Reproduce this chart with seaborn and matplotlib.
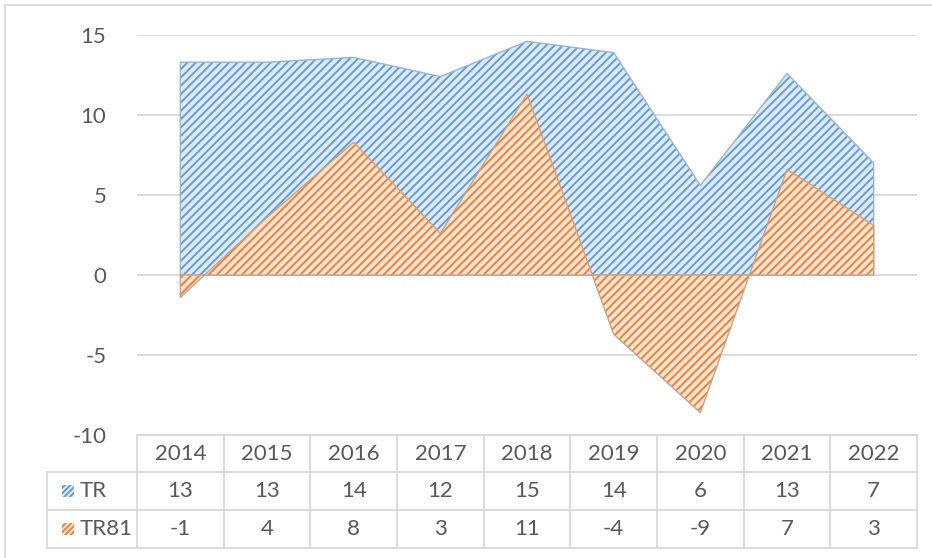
import matplotlib
matplotlib.use("Agg")
import matplotlib.pyplot as plt
import matplotlib.transforms as mtransforms
from matplotlib.patches import Rectangle
import seaborn as sns
import pandas as pd

# === datos ===
anios = ["2014", "2015", "2016", "2017", "2018", "2019", "2020", "2021", "2022"]
tr = [13.3, 13.3, 13.6, 12.4, 14.6, 13.9, 5.6, 12.6, 7.0]
tr81 = [-1.4, 3.6, 8.3, 2.6, 11.3, -3.7, -8.6, 6.6, 3.1]
series = ["TR", "TR81"]

df = pd.DataFrame({"anio": anios, "TR": tr, "TR81": tr81})
df["x"] = range(len(df))

# === estilo ===
sns.set_theme(style="white")
plt.rcParams["font.family"] = ["Lato", "DejaVu Sans"]
plt.rcParams["axes.unicode_minus"] = False
plt.rcParams["hatch.linewidth"] = 1.3
gris = "#595959"
linea = "#d9d9d9"
fs = 16

colores = {
    "TR": {"fondo": "#dce8f6", "trama": "#5b9bd5", "borde": "#9cb4cf"},
    "TR81": {"fondo": "#fde3cf", "trama": "#ed7d31", "borde": "#c9a285"},
}

fig = plt.figure(figsize=(9.32, 5.58), dpi=100)
W, H = 932, 558
ax = fig.add_axes([137 / W, 1 - 435 / H, 780 / W, 400 / H])

# === areas ===
for s in series:
    c = colores[s]
    ax.fill_between(df["x"], 0, df[s], facecolor=c["fondo"], edgecolor="none", zorder=2)
    ax.fill_between(df["x"], 0, df[s], facecolor="none", edgecolor=c["trama"],
                    hatch="////", linewidth=0, zorder=2)
    ax.fill_between(df["x"], 0, df[s], facecolor="none", edgecolor=c["borde"],
                    linewidth=1.0, zorder=2)

ax.set_xlim(-0.5, len(anios) - 0.5)
ax.set_ylim(-10, 15)
ax.set_yticks([-10, -5, 0, 5, 10, 15])
ax.set_xticks([])
ax.yaxis.grid(True, color=linea, linewidth=1.3, zorder=0)
ax.set_axisbelow(True)
ax.tick_params(axis="y", length=0, pad=22, labelsize=fs, labelcolor=gris)
sns.despine(ax=ax, left=True, bottom=True)
ax.set_xlabel("")
ax.set_ylabel("")

# === tabla de datos ===
ov = fig.add_axes([0, 0, 1, 1], facecolor="none")
ov.set_xlim(0, W)
ov.set_ylim(H, 0)
ov.axis("off")
mix = mtransforms.blended_transform_factory(ax.transData, ov.transData)

filas = [435, 472, 510, 548]
x0, x_izq, x_fin = 137, 47, 917
ancho = (x_fin - x0) / len(anios)

ov.plot([x0, x_fin], [filas[0], filas[0]], color=linea, lw=1.3)
for yy in filas[1:]:
    ov.plot([x_izq, x_fin], [yy, yy], color=linea, lw=1.3)
ov.plot([x_izq, x_izq], [filas[1], filas[3]], color=linea, lw=1.3)
for k in range(len(anios) + 1):
    xx = x0 + k * ancho
    ov.plot([xx, xx], [filas[0], filas[3]], color=linea, lw=1.3)

centros = [(filas[i] + filas[i + 1]) / 2 for i in range(3)]
for i, a in enumerate(anios):
    ov.text(i, centros[0], a, transform=mix, ha="center", va="center",
            fontsize=fs, color=gris)
    ov.text(i, centros[1], f"{tr[i]:.0f}", transform=mix, ha="center",
            va="center", fontsize=fs, color=gris)
    ov.text(i, centros[2], f"{tr81[i]:.0f}", transform=mix, ha="center",
            va="center", fontsize=fs, color=gris)

for j, s in enumerate(series):
    c = colores[s]
    yc = centros[j + 1]
    ov.add_patch(Rectangle((62, yc - 6), 12, 12, facecolor=c["fondo"],
                           edgecolor="none"))
    ov.add_patch(Rectangle((62, yc - 6), 12, 12, facecolor="none",
                           edgecolor=c["trama"], hatch="//////", linewidth=0))
    ov.text(80, yc, s, ha="left", va="center", fontsize=fs, color=gris)

# marco del grafico
ov.plot([5, 5], [5, H], color=linea, lw=1.3)
ov.plot([5, W], [5, 5], color=linea, lw=1.3)

fig.savefig("out.png", dpi=100)
